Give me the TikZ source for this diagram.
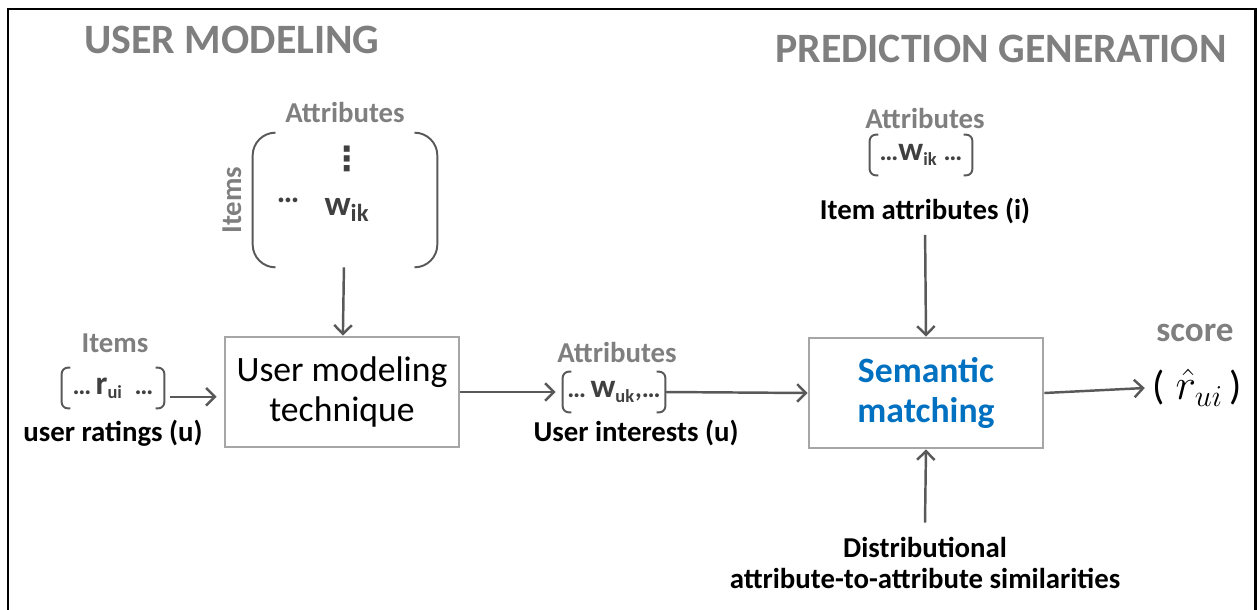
\documentclass[tikz,border=0pt]{standalone}
\usepackage{fontspec}
\setmainfont{Carlito}
\newfontfamily\symfont{DejaVu Sans}
\usetikzlibrary{positioning,
        arrows.meta}
\usepackage{amsmath}
\usepackage{xcolor}

\definecolor{headgray}{HTML}{7F7F7F}
\definecolor{linegray}{HTML}{595959}
\definecolor{boxgray}{HTML}{A6A6A6}
\definecolor{entrygray}{HTML}{404040}
\definecolor{semblue}{HTML}{0070C0}

\tikzset{
    heading/.style={font=\fontsize{23.8}{28}\selectfont\bfseries, text=headgray, inner sep=0},
    axislabel/.style={font=\fontsize{16.4}{20}\selectfont\bfseries, text=headgray, inner sep=0},
    caption/.style={font=\fontsize{16.4}{18}\selectfont\bfseries, align=center, inner sep=0},
    entry/.style={font=\fontsize{15}{17}\selectfont\bfseries, text=entrygray, inner sep=0},
    vecnode/.style={entry, minimum width=2.04cm, minimum height=0.8cm},
    procbox/.style={draw=boxgray, line width=1.6pt, minimum width=4.68cm, minimum height=2.2cm,
        align=center, font=\fontsize{20.3}{22.7}\selectfont},
    arr/.style={draw=linegray, line width=1.4pt, -{Straight Barb[length=5pt,width=10pt]}},
    brk/.style={draw=linegray, line width=1.1pt, rounded corners=3.5pt}
}

\begin{document}
\begin{tikzpicture}[x=0.02cm, y=-0.02cm]
        \useasboundingbox (0,0) rectangle (1258,609);
        \draw[line width=1.7pt] (8,620) -- (8,9) -- (1255,9) -- (1255,620);

        \node [heading] (umhead) at (232,40) {USER MODELING};
        \node [heading] (pghead) at (1001,49) {PREDICTION GENERATION};

        % item-attribute matrix
        \node [axislabel] (mattr) at (345,112) {Attributes};
        \node [axislabel, rotate=90] (mitems) at (232,200) {Items};
        \node [minimum width=3.68cm, minimum height=2.68cm, inner sep=0] (mat) at (345,200) {};
        \node [text=entrygray, inner sep=0, font=\symfont\fontsize{19}{20}\selectfont\bfseries] (mvdots) at (347,159) {⋮};
        \node [entry, font=\fontsize{18}{20}\selectfont\bfseries] (mdots) at (288,200) {\ldots};
        \node [entry, font=\fontsize{20}{22}\selectfont\bfseries] (mw) at (347,210) {w\textsubscript{ik}};
        \draw[brk, rounded corners=13pt] ([xshift=13pt]mat.north west) -- (mat.north west) -- (mat.south west) -- ([xshift=13pt]mat.south west);
        \draw[brk, rounded corners=13pt] ([xshift=-13pt]mat.north east) -- (mat.north east) -- (mat.south east) -- ([xshift=-13pt]mat.south east);

        % user ratings
        \node [axislabel] (ritems) at (115,343) {Items};
        \node [vecnode] (rvec) at (113,388) {\ldots\,{\fontsize{19}{20}\selectfont r}\textsubscript{ui}\ \ \ldots};
        \node [caption] (rcap) at (113,433) {user ratings (u)};
        \draw[brk] ([xshift=5pt]rvec.north west) -- (rvec.north west) -- (rvec.south west) -- ([xshift=5pt]rvec.south west);
        \draw[brk] ([xshift=-5pt]rvec.north east) -- (rvec.north east) -- (rvec.south east) -- ([xshift=-5pt]rvec.south east);

        \node [procbox] (umt) at (342,392) {User modeling\\technique};

        % user interests
        \node [axislabel] (uattr) at (617,352) {Attributes};
        \node [vecnode] (uvec) at (614,392) {\ldots\,{\fontsize{19}{20}\selectfont w}\textsubscript{uk},\ldots};
        \node [caption] (ucap) at (636,433) {User interests (u)};
        \draw[brk] ([xshift=5pt]uvec.north west) -- (uvec.north west) -- (uvec.south west) -- ([xshift=5pt]uvec.south west);
        \draw[brk] ([xshift=-5pt]uvec.north east) -- (uvec.north east) -- (uvec.south east) -- ([xshift=-5pt]uvec.south east);

        % item attributes
        \node [axislabel] (iattr) at (925,118) {Attributes};
        \node [vecnode] (ivec) at (921,155) {\ldots{\fontsize{19}{20}\selectfont w}\textsubscript{ik}\ \ldots};
        \node [caption] (icap) at (925,211) {Item attributes (i)};
        \draw[brk] ([xshift=5pt]ivec.north west) -- (ivec.north west) -- (ivec.south west) -- ([xshift=5pt]ivec.south west);
        \draw[brk] ([xshift=-5pt]ivec.north east) -- (ivec.north east) -- (ivec.south east) -- ([xshift=-5pt]ivec.south east);

        \node [procbox, text=semblue, font=\fontsize{20.3}{22.7}\selectfont\bfseries] (sm) at (926,393) {Semantic\\matching};

        \node [caption] (dist) at (925,563) {Distributional\\attribute-to-attribute similarities};

        \node [font=\fontsize{20}{24}\selectfont\bfseries, text=headgray, inner sep=0] (score) at (1195,333) {score};
        \node [font=\fontsize{23}{26}\selectfont, inner sep=4pt] (rhat) at (1197,388) {(\;$\hat{r}_{ui}$\,)};

        \draw[arr] (mat) -- (umt);
        \draw[arr, shorten <=3pt, shorten >=4pt] ([yshift=-5pt]rvec.east) -- ([yshift=-5pt]rvec.east -| umt.west);
        \draw[arr, shorten >=4pt] (umt.east) -- (uvec.west);
        \draw[arr] (uvec.east) -- (sm.west);
        \draw[arr, shorten <=6pt] (icap.south) -- (sm.north);
        \draw[arr] ([yshift=8pt]dist.north) -- (sm.south);
        \draw[arr] (sm.east) -- (rhat.west);
    \end{tikzpicture}
\end{document}
